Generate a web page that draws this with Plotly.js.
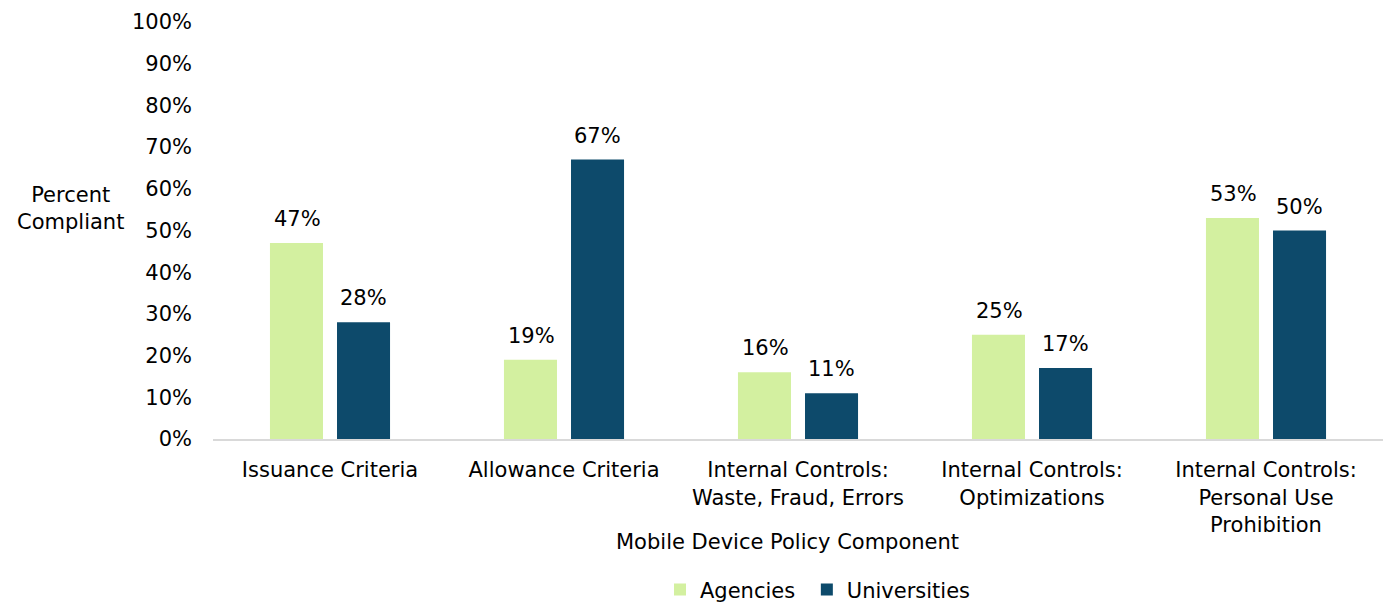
<!DOCTYPE html>
<html>
<head>
<meta charset="utf-8">
<script src="https://cdn.plot.ly/plotly-3.0.1.min.js"></script>
<style>html,body{margin:0;padding:0;background:#fff;}#chart{width:1386px;height:603px;}</style>
</head>
<body>
<div id="chart"></div>
<script>
const categories = [
  "Issuance Criteria",
  "Allowance Criteria",
  "Internal Controls:<br>Waste, Fraud, Errors",
  "Internal Controls:<br>Optimizations",
  "Internal Controls:<br>Personal Use<br>Prohibition"
];
const agencies = [47, 19, 16, 25, 53];
const universities = [28, 67, 11, 17, 50];
const seriesNames = ["Agencies", "Universities"];
const yTickVals = [0,10,20,30,40,50,60,70,80,90,100];
const yTickText = yTickVals.map(v => v + "%");

const FONT = "'DejaVu Sans', sans-serif";
const FS = 21;
const traces = [
  {type:"bar", name:seriesNames[0] + "\u00a0", x:categories, y:agencies,
   marker:{color:"#d3f0a0"}, hoverinfo:"skip"},
  {type:"bar", name:seriesNames[1], x:categories, y:universities,
   marker:{color:"#0d4a6b"}, hoverinfo:"skip"}
];
const labelAnn = [];
categories.forEach((c,i) => {
  labelAnn.push({x:c, y:agencies[i], xref:"x", yref:"y", text:agencies[i]+"%", showarrow:false,
    xanchor:"center", yanchor:"bottom", xshift:-33, yshift:10, font:{size:FS, color:"#000"}});
  labelAnn.push({x:c, y:universities[i], xref:"x", yref:"y", text:universities[i]+"%", showarrow:false,
    xanchor:"center", yanchor:"bottom", xshift:33, yshift:10, font:{size:FS, color:"#000"}});
});
const layout = {
  width:1386, height:603,
  margin:{l:213, r:3, t:22, b:164, autoexpand:false},
  paper_bgcolor:"#fff", plot_bgcolor:"#fff",
  font:{family:FONT, size:FS, color:"#000"},
  barmode:"group", bargap:0.427, bargroupgap:0.209,
  showlegend:true,
  legend:{orientation:"h", x:0.393, xref:"paper", xanchor:"left", y:-0.362, yanchor:"middle",
          font:{size:FS}, traceorder:"normal"},
  xaxis:{showline:true, linecolor:"#d9d9d9", linewidth:2, showgrid:false, ticks:"",
         tickfont:{size:FS}, ticklabelstandoff:11, automargin:false, fixedrange:true},
  yaxis:{range:[0,100], tickvals:yTickVals, ticktext:yTickText, showgrid:false, zeroline:false,
         showline:false, ticks:"", tickfont:{size:FS}, ticklabelstandoff:20, automargin:false},
  annotations:[
    {text:"Percent<br>Compliant", xref:"paper", yref:"paper", x:-0.122, y:0.552, xanchor:"center", yanchor:"middle",
     showarrow:false, font:{size:FS}},
    {text:"Mobile Device Policy Component", xref:"paper", yref:"paper", x:0.491, y:-0.247, xanchor:"center", yanchor:"middle",
     showarrow:false, font:{size:FS}}
  ].concat(labelAnn)
};
Plotly.newPlot("chart", traces, layout, {displayModeBar:false, staticPlot:true}).then(gd => {
  // align the legend's first symbol with the reference position
  const sym = gd.querySelector('.legend .legendpoints');
  if (sym) {
    const r = sym.getBoundingClientRect();
    const dx = 674 - r.left;
    if (Math.abs(dx) > 1) Plotly.relayout(gd, {'legend.x': layout.legend.x + dx / 1170});
  }
});
</script>
</body>
</html>
